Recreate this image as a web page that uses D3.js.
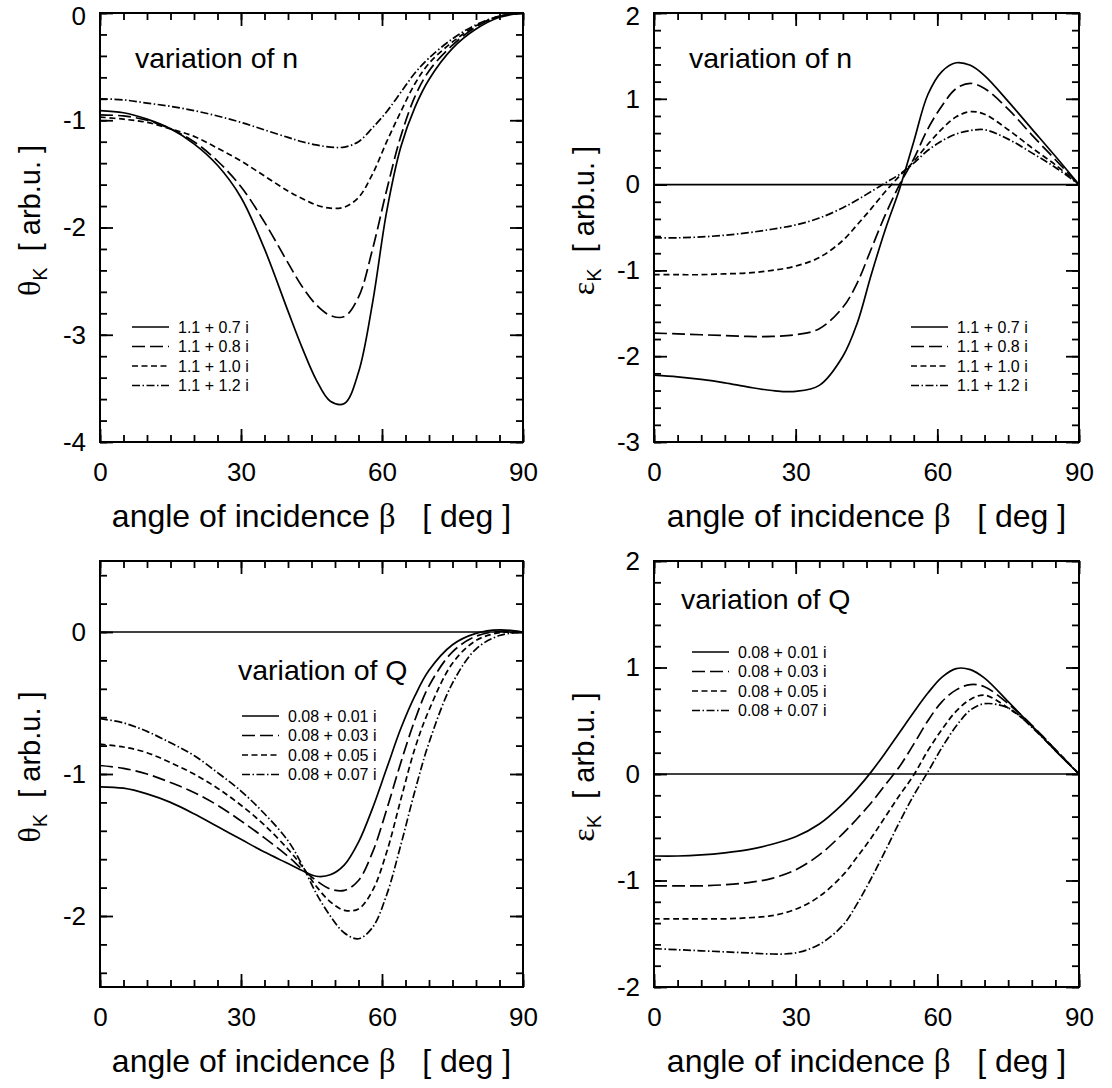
<!DOCTYPE html>
<html>
<head>
<meta charset="utf-8">
<script src="https://d3js.org/d3.v7.min.js"></script>
<style>
  body { margin: 0; background: #fff; }
  svg { display: block; }
  text { font-family: "Liberation Sans", Arial, sans-serif; fill: #000; }
</style>
</head>
<body>
<svg width="1112" height="1088"></svg>
<script>
// angle of incidence grid (deg), shared by every curve
const angles = [0, 5, 10, 15, 20, 25, 30, 35, 40, 43, 46, 49, 52, 55, 58, 61, 64, 67, 70, 75, 80, 85, 90];

const nLabels = ["1.1 + 0.7 i", "1.1 + 0.8 i", "1.1 + 1.0 i", "1.1 + 1.2 i"];
const qLabels = ["0.08 + 0.01 i", "0.08 + 0.03 i", "0.08 + 0.05 i", "0.08 + 0.07 i"];
const xTicks = [0, 30, 60, 90];

// Kerr rotation, variation of n
const thetaN07 = [-0.91, -0.93, -0.99, -1.08, -1.22, -1.42, -1.72, -2.2, -2.78, -3.12, -3.42, -3.62, -3.64, -3.35, -2.7, -1.85, -1.25, -0.88, -0.62, -0.33, -0.15, -0.04, 0];
const thetaN08 = [-0.95, -0.96, -1.0, -1.08, -1.2, -1.38, -1.62, -1.95, -2.33, -2.55, -2.72, -2.82, -2.83, -2.65, -2.2, -1.65, -1.15, -0.78, -0.54, -0.3, -0.13, -0.03, 0];
const thetaN10 = [-0.97, -0.99, -1.02, -1.08, -1.15, -1.26, -1.38, -1.52, -1.66, -1.73, -1.79, -1.82, -1.81, -1.72, -1.5, -1.2, -0.92, -0.66, -0.47, -0.27, -0.12, -0.03, 0];
const thetaN12 = [-0.8, -0.81, -0.84, -0.87, -0.91, -0.96, -1.02, -1.09, -1.16, -1.2, -1.23, -1.25, -1.25, -1.2, -1.07, -0.92, -0.74, -0.56, -0.42, -0.24, -0.11, -0.03, 0];

// Kerr ellipticity, variation of n
const epsN07 = [-2.22, -2.24, -2.27, -2.31, -2.36, -2.4, -2.41, -2.34, -2.0, -1.62, -1.05, -0.52, -0.05, 0.5, 1.05, 1.32, 1.42, 1.39, 1.27, 0.97, 0.65, 0.33, 0];
const epsN08 = [-1.73, -1.74, -1.75, -1.76, -1.77, -1.77, -1.75, -1.68, -1.43, -1.15, -0.75, -0.35, 0.0, 0.3, 0.65, 0.92, 1.12, 1.18, 1.12, 0.88, 0.58, 0.29, 0];
const epsN10 = [-1.05, -1.05, -1.05, -1.04, -1.03, -1.0, -0.95, -0.85, -0.65, -0.47, -0.28, -0.08, 0.1, 0.27, 0.47, 0.65, 0.79, 0.85, 0.82, 0.64, 0.43, 0.23, 0];
const epsN12 = [-0.62, -0.62, -0.61, -0.59, -0.56, -0.52, -0.47, -0.39, -0.27, -0.18, -0.08, 0.02, 0.12, 0.25, 0.4, 0.51, 0.59, 0.63, 0.64, 0.53, 0.37, 0.2, 0];

// Kerr rotation, variation of Q
const thetaQ01 = [-1.09, -1.1, -1.14, -1.2, -1.28, -1.37, -1.46, -1.55, -1.63, -1.68, -1.72, -1.71, -1.64, -1.48, -1.24, -0.96, -0.68, -0.45, -0.27, -0.09, -0.01, 0.015, 0];
const thetaQ03 = [-0.94, -0.96, -1.0, -1.06, -1.13, -1.22, -1.33, -1.45, -1.58, -1.67, -1.75, -1.81, -1.82, -1.75, -1.55, -1.25, -0.92, -0.62, -0.38, -0.14, -0.03, 0.005, 0];
const thetaQ05 = [-0.79, -0.81, -0.85, -0.92, -1.0, -1.1, -1.22, -1.36, -1.53, -1.65, -1.79, -1.9, -1.96, -1.95, -1.82, -1.55, -1.18, -0.82, -0.55, -0.22, -0.06, -0.005, 0];
const thetaQ07 = [-0.61, -0.64, -0.7, -0.78, -0.87, -0.99, -1.12, -1.28, -1.47, -1.64, -1.84, -2.0, -2.12, -2.16, -2.08, -1.85, -1.5, -1.12, -0.78, -0.36, -0.12, -0.025, 0];

// Kerr ellipticity, variation of Q
const epsQ01 = [-0.77, -0.77, -0.76, -0.74, -0.71, -0.66, -0.59, -0.47, -0.28, -0.14, 0.02, 0.2, 0.39, 0.58, 0.76, 0.91, 0.99, 0.98, 0.9, 0.68, 0.45, 0.22, 0];
const epsQ03 = [-1.05, -1.05, -1.05, -1.04, -1.02, -0.98, -0.9, -0.76, -0.56, -0.42, -0.27, -0.1, 0.07, 0.28, 0.5, 0.68, 0.79, 0.84, 0.82, 0.66, 0.46, 0.23, 0];
const epsQ05 = [-1.36, -1.36, -1.36, -1.36, -1.35, -1.33, -1.27, -1.15, -0.95, -0.78, -0.6, -0.4, -0.2, -0.01, 0.22, 0.42, 0.59, 0.7, 0.74, 0.62, 0.45, 0.23, 0];
const epsQ07 = [-1.64, -1.65, -1.66, -1.67, -1.68, -1.69, -1.68, -1.6, -1.42, -1.22, -0.98, -0.72, -0.45, -0.2, 0.02, 0.25, 0.45, 0.6, 0.66, 0.62, 0.44, 0.22, 0];

const dashes = ["none", "13,5", "6,3.5", "8,2.5,1.5,2.5"];

const svg = d3.select("svg");

const panels = [
  { x0: 100, x1: 523, y0: 13, y1: 442, yDomain: [-4, 0], yTicks: [-4, -3, -2, -1, 0], zero: false,
    sym: "\u03b8", series: [thetaN07, thetaN08, thetaN10, thetaN12], labels: nLabels,
    title: "variation of n", tx: 135, ty: 68, lx: 132, ly: 327 },
  { x0: 654, x1: 1079, y0: 13, y1: 442, yDomain: [-3, 2], yTicks: [-3, -2, -1, 0, 1, 2], zero: true,
    sym: "\u03b5", series: [epsN07, epsN08, epsN10, epsN12], labels: nLabels,
    title: "variation of n", tx: 689, ty: 68, lx: 911, ly: 327 },
  { x0: 100, x1: 523, y0: 561, y1: 987, yDomain: [-2.5, 0.5], yTicks: [-2, -1, 0], zero: true,
    sym: "\u03b8", series: [thetaQ01, thetaQ03, thetaQ05, thetaQ07], labels: qLabels,
    title: "variation of Q", tx: 238, ty: 680, lx: 242, ly: 716 },
  { x0: 654, x1: 1079, y0: 561, y1: 987, yDomain: [-2, 2], yTicks: [-2, -1, 0, 1, 2], zero: true,
    sym: "\u03b5", series: [epsQ01, epsQ03, epsQ05, epsQ07], labels: qLabels,
    title: "variation of Q", tx: 681, ty: 609, lx: 692, ly: 652 }
];

function styleAxis(g) {
  g.select(".domain").remove();
  g.selectAll(".tick line").attr("stroke", "#000").attr("stroke-width", 1.8);
  g.selectAll(".tick text").style("font-size", "26px").attr("fill", "#000");
}

panels.forEach(p => {
  const x = d3.scaleLinear().domain([0, 90]).range([p.x0, p.x1]);
  const y = d3.scaleLinear().domain(p.yDomain).range([p.y1, p.y0]);
  const g = svg.append("g");
  // minor ticks every 0.2 inside the y domain
  const minorY = d3.range(Math.ceil(p.yDomain[0] * 5 - 1e-9), Math.floor(p.yDomain[1] * 5 + 1e-9) + 1).map(v => v / 5);
  const minorX = d3.range(0, 91, 5);
  const fmt = d => String(d);

  // inward ticks on all four sides
  g.append("g").attr("transform", `translate(0,${p.y1})`)
    .call(d3.axisBottom(x).tickValues(minorX).tickSize(-7).tickFormat("")).call(styleAxis);
  g.append("g").attr("transform", `translate(0,${p.y1})`)
    .call(d3.axisBottom(x).tickValues(xTicks).tickSize(-13).tickPadding(21).tickFormat(fmt)).call(styleAxis);
  g.append("g").attr("transform", `translate(0,${p.y0})`)
    .call(d3.axisTop(x).tickValues(minorX).tickSize(-7).tickFormat("")).call(styleAxis);
  g.append("g").attr("transform", `translate(0,${p.y0})`)
    .call(d3.axisTop(x).tickValues(xTicks).tickSize(-13).tickFormat("")).call(styleAxis);
  g.append("g").attr("transform", `translate(${p.x0},0)`)
    .call(d3.axisLeft(y).tickValues(minorY).tickSize(-7).tickFormat("")).call(styleAxis);
  const yAxisG = g.append("g").attr("transform", `translate(${p.x0},0)`)
    .call(d3.axisLeft(y).tickValues(p.yTicks).tickSize(-13).tickPadding(14).tickFormat(fmt)).call(styleAxis);
  // keep the topmost label inside the page
  yAxisG.selectAll(".tick text").filter(d => y(d) < 20).attr("y", 3);
  g.append("g").attr("transform", `translate(${p.x1},0)`)
    .call(d3.axisRight(y).tickValues(minorY).tickSize(-7).tickFormat("")).call(styleAxis);
  g.append("g").attr("transform", `translate(${p.x1},0)`)
    .call(d3.axisRight(y).tickValues(p.yTicks).tickSize(-13).tickFormat("")).call(styleAxis);

  if (p.zero) {
    g.append("line")
      .attr("x1", x(0)).attr("x2", x(90)).attr("y1", y(0)).attr("y2", y(0))
      .attr("stroke", "#000").attr("stroke-width", 1.6);
  }

  const line = d3.line()
    .x((d, i) => x(angles[i]))
    .y(d => y(d))
    .curve(d3.curveCatmullRom.alpha(0.5));

  p.series.forEach((s, i) => {
    g.append("path")
      .attr("d", line(s))
      .attr("fill", "none")
      .attr("stroke", "#000")
      .attr("stroke-width", 1.7)
      .attr("stroke-dasharray", dashes[i]);
  });

  g.append("rect")
    .attr("x", p.x0).attr("y", p.y0)
    .attr("width", p.x1 - p.x0).attr("height", p.y1 - p.y0)
    .attr("fill", "none").attr("stroke", "#000").attr("stroke-width", 2);

  // annotation
  g.append("text").attr("x", p.tx).attr("y", p.ty)
    .style("font-size", "28.5px").text(p.title);

  // legend
  p.labels.forEach((lab, i) => {
    const ly = p.ly + i * 19.5;
    g.append("line")
      .attr("x1", p.lx).attr("x2", p.lx + 37).attr("y1", ly).attr("y2", ly)
      .attr("stroke", "#000").attr("stroke-width", 1.7)
      .attr("stroke-dasharray", dashes[i]);
    g.append("text").attr("x", p.lx + 46).attr("y", ly).attr("dy", "0.35em")
      .style("font-size", "16px").text(lab);
  });

  // x axis title
  const xt = g.append("text")
    .attr("x", (p.x0 + p.x1) / 2).attr("y", p.y1 + 85)
    .attr("text-anchor", "middle")
    .style("font-size", "32px");
  xt.append("tspan").text("angle of incidence ");
  xt.append("tspan").style("font-family", "'Liberation Serif', serif").style("font-size", "33px").text("\u03b2");
  xt.append("tspan").text("\u00a0\u00a0\u00a0[ deg ]");

  // y axis title
  const yx = p.x0 > 300 ? p.x0 - 60 : 40;
  const yt = g.append("text")
    .attr("transform", `translate(${yx},${(p.y0 + p.y1) / 2 - 7}) rotate(-90)`)
    .attr("text-anchor", "middle")
    .style("font-size", "29px");
  yt.append("tspan").style("font-family", "'Liberation Serif', serif").style("font-size", "32px").text(p.sym);
  yt.append("tspan").attr("dy", 7).style("font-size", "20px").text("K");
  yt.append("tspan").attr("dy", -7).text("\u00a0\u00a0[ arb.u. ]");
});
</script>
</body>
</html>
